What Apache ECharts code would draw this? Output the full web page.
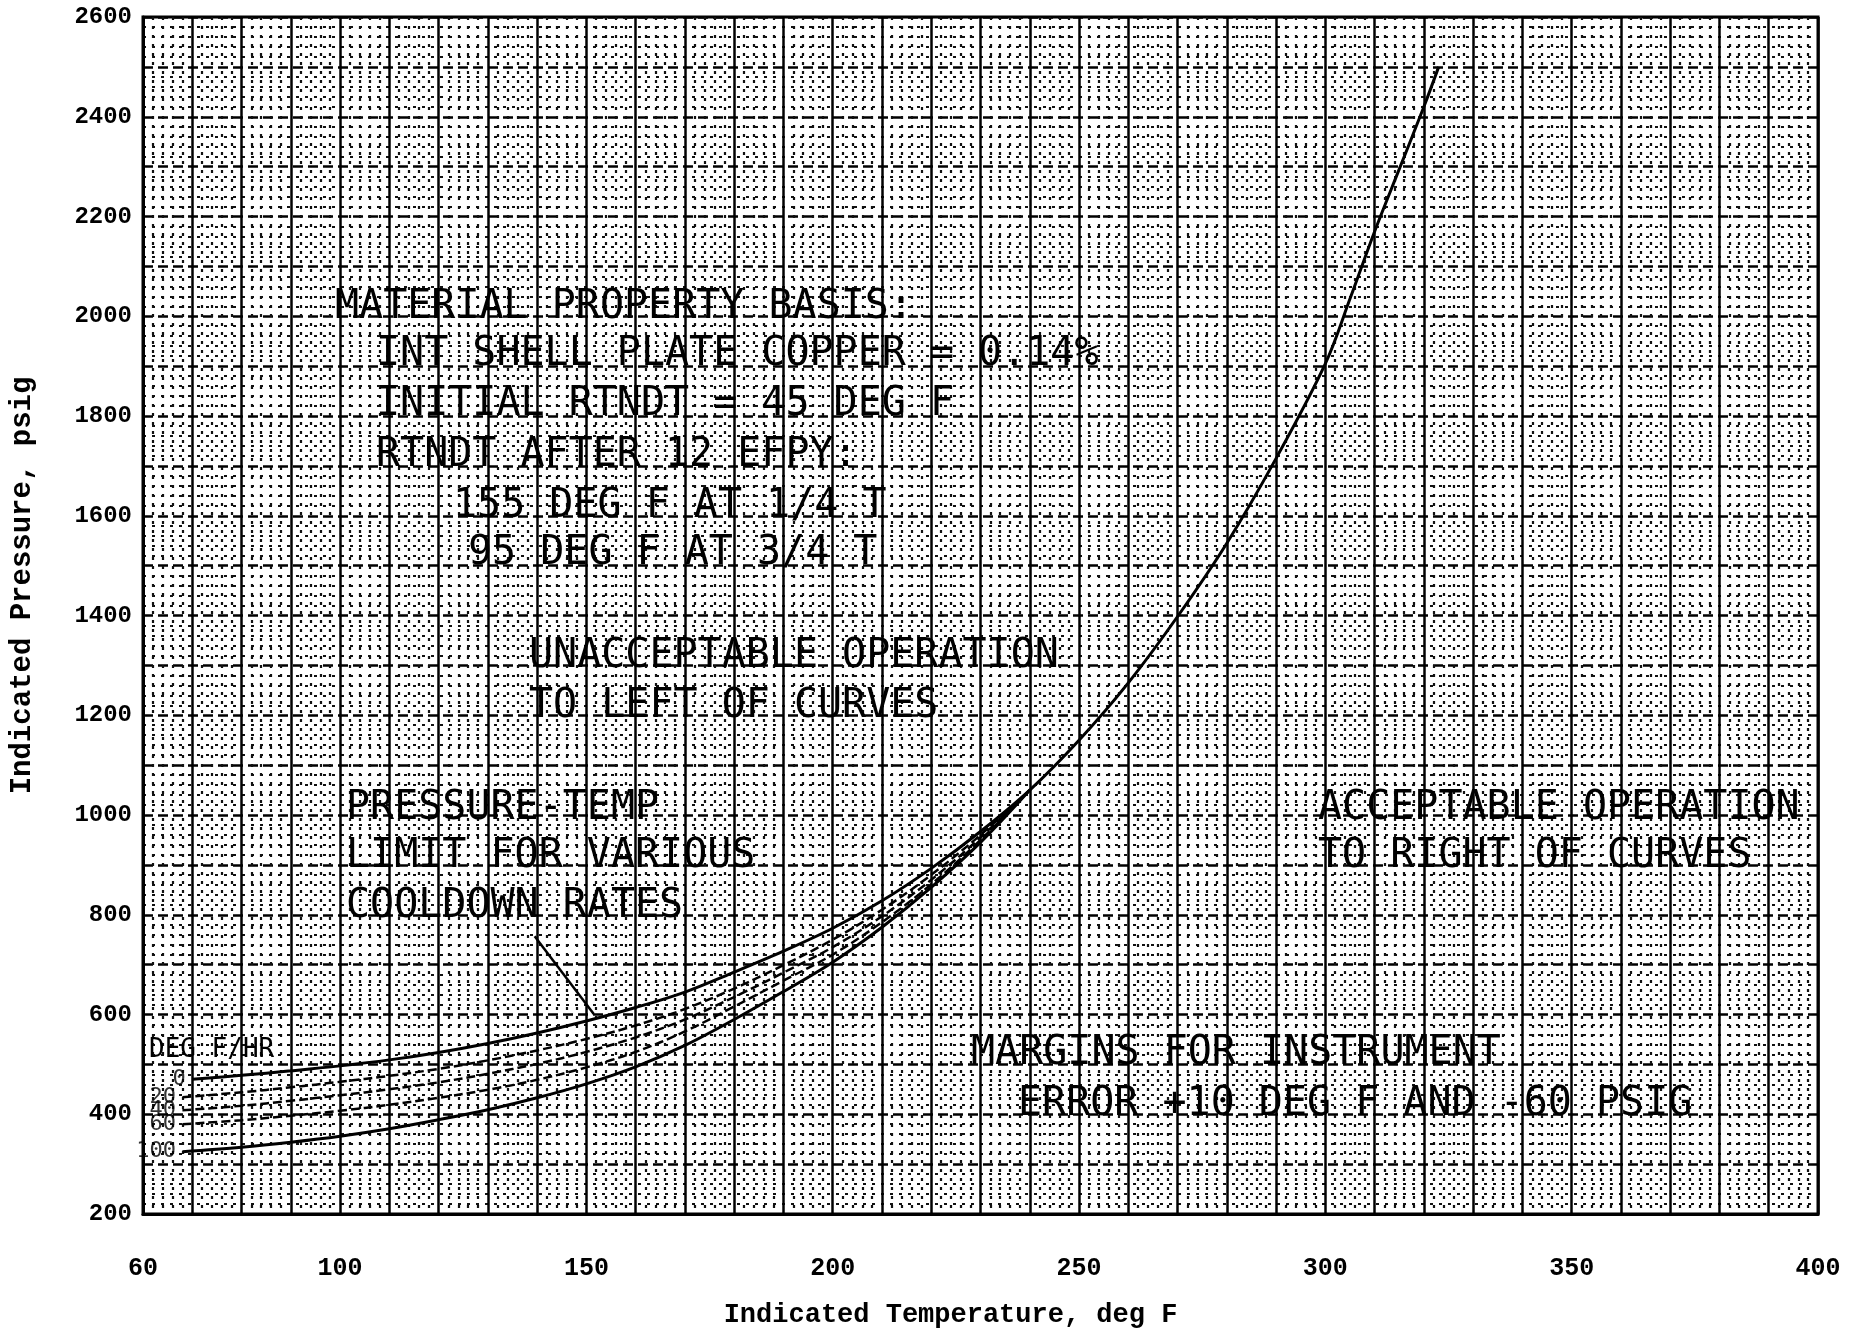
<!DOCTYPE html>
<html>
<head>
<meta charset="utf-8">
<script src="https://cdn.jsdelivr.net/npm/echarts@6/dist/echarts.min.js"></script>
<style>
html,body{margin:0;padding:0;background:#fff;}
#chart{width:1857px;height:1334px;}
</style>
</head>
<body>
<div id="chart"></div>
<script>
// ---- data ----
const xTickLabels = [60, 100, 150, 200, 250, 300, 350, 400];
const yTickLabels = [200, 400, 600, 800, 1000, 1200, 1400, 1600, 1800, 2000, 2200, 2400, 2600];

// 0 deg F/hr curve (continues to the top)
const temps0 = [70, 80, 90, 100, 110, 120, 130, 140, 150, 160, 170, 180, 190, 200, 210, 220, 230, 240, 250, 260, 270, 280, 290, 300, 305, 310, 315, 320, 323];
const press0 = [470, 478, 487, 497, 509, 524, 542, 563, 587, 614, 645, 685, 727, 773, 828, 893, 967, 1050, 1150, 1265, 1398, 1545, 1715, 1905, 2035, 2170, 2295, 2420, 2500];

// cooldown-rate curves that merge into the 0 deg F/hr curve
const tempsRates = [68, 80, 90, 100, 110, 120, 130, 140, 150, 160, 170, 180, 190, 200, 210, 220, 230, 240];
const press20  = [434, 444, 454, 465, 477, 491, 508, 528, 551, 578, 611, 652, 699, 750, 810, 880, 960, 1050];
const press40  = [408, 417, 427, 438, 450, 464, 481, 501, 525, 554, 590, 635, 684, 735, 797, 870, 955, 1050];
const press60  = [380, 388, 397, 407, 419, 433, 449, 469, 494, 525, 566, 616, 668, 720, 785, 861, 950, 1050];
const press100 = [325, 334, 344, 356, 371, 389, 409, 433, 461, 495, 538, 590, 646, 705, 775, 855, 945, 1050];

const rateLabels = ['0', '20', '40', '60', '100'];

// leader from the "COOLDOWN RATES" note to the curves
const leaderTemps = [139.5, 151.5];
const leaderPress = [757, 601];

// ---- chart ----
const chart = echarts.init(document.getElementById('chart'), null, {renderer: 'canvas'});
const zip = (xs, ys) => xs.map((x, i) => [x, ys[i]]);
const mono = '"DejaVu Sans Mono", "Liberation Mono", monospace';
const tick = 'Liberation Mono';

const rateSeriesData = [press20, press40, press60, press100];
const curveSeries = [{
  name: '0', type: 'line', data: zip(temps0, press0), smooth: 0.35, showSymbol: false,
  lineStyle: {color: '#000', width: 3}, z: 5
}];
rateSeriesData.forEach((p, k) => {
  const dashed = k < 3;
  curveSeries.push({
    name: rateLabels[k + 1], type: 'line', data: zip(tempsRates, p), smooth: 0.35, showSymbol: false,
    lineStyle: {color: '#000', width: dashed ? 2.5 : 3, type: dashed ? [9, 4] : 'solid'}, z: 5
  });
});

const starts = [[temps0[0], press0[0]]].concat(rateSeriesData.map(p => [tempsRates[0], p[0]]));

const notes = [
  ['MATERIAL PROPERTY BASIS:', 335, 308],
  ['INT SHELL PLATE COPPER = 0.14%', 376, 355],
  ['INITIAL RTNDT = 45 DEG F', 376, 405],
  ['RTNDT AFTER 12 EFPY:', 376, 456],
  ['155 DEG F AT 1/4 T', 453, 507],
  ['95 DEG F AT 3/4 T', 468, 554],
  ['UNACCEPTABLE OPERATION', 529, 657],
  ['TO LEFT OF CURVES', 529, 707],
  ['PRESSURE-TEMP', 346, 809],
  ['LIMIT FOR VARIOUS', 346, 857],
  ['COOLDOWN RATES', 346, 907],
  ['ACCEPTABLE OPERATION', 1318, 809],
  ['TO RIGHT OF CURVES', 1318, 857],
  ['MARGINS FOR INSTRUMENT', 971, 1054],
  ['ERROR +10 DEG F AND -60 PSIG', 1018, 1105]
];

const option = {
  animation: false,
  backgroundColor: '#fff',
  grid: {left: 137, right: 39, top: 17, bottom: 115, show: true, borderColor: '#000', borderWidth: 3, backgroundColor: '#fff'},
  xAxis: {
    type: 'value', min: 60, max: 400, interval: 10,
    name: 'Indicated Temperature, deg F', nameLocation: 'middle', nameGap: 88,
    nameTextStyle: {fontFamily: tick, fontWeight: 'bold', fontSize: 27, color: '#000', padding: [0, 60, 0, 0]},
    axisLine: {show: true, lineStyle: {color: '#000', width: 3}},
    axisTick: {show: false},
    axisLabel: {
      margin: 42, fontFamily: tick, fontWeight: 'bold', fontSize: 25, color: '#000',
      formatter: v => xTickLabels.includes(v) ? String(v) : ''
    },
    splitLine: {show: true, lineStyle: {color: '#000', width: 2.5}},
    minorTick: {show: false, splitNumber: 5},
    minorSplitLine: {show: true, lineStyle: {color: '#111', width: 2.2, type: [3, 6]}}
  },
  yAxis: {
    type: 'value', min: 200, max: 2600, interval: 100,
    name: 'Indicated Pressure, psig', nameLocation: 'middle', nameGap: 106, nameRotate: 90,
    nameTextStyle: {fontFamily: tick, fontWeight: 'bold', fontSize: 29, color: '#000', padding: [0, 0, 0, 60]},
    axisLine: {show: true, lineStyle: {color: '#000', width: 3}},
    axisTick: {show: false},
    axisLabel: {
      margin: 11, fontFamily: tick, fontWeight: 'bold', fontSize: 24, color: '#000',
      formatter: v => yTickLabels.includes(v) ? String(v) : ''
    },
    splitLine: {show: true, lineStyle: {color: '#000', width: 2.5, type: [10, 5]}},
    minorTick: {show: false, splitNumber: 5},
    minorSplitLine: {show: true, lineStyle: {color: '#111', width: 2.2, type: [3, 6]}}
  },
  series: curveSeries.concat([
    {
      name: 'leader', type: 'line', data: zip(leaderTemps, leaderPress), showSymbol: false,
      lineStyle: {color: '#000', width: 2.5}, z: 5
    },
    {
      name: 'rates', type: 'scatter', symbolSize: 1, itemStyle: {color: 'rgba(0,0,0,0)'},
      data: starts.map((s, i) => ({value: s, label: {formatter: rateLabels[i]}})),
      label: {show: true, position: 'left', distance: 6, fontFamily: mono, fontSize: 22, color: '#000'},
      z: 6
    }
  ]),
  graphic: notes.map(n => ({
    type: 'text', x: n[1], y: n[2], z: 10,
    style: {text: n[0], font: '40px ' + mono, fill: '#000', align: 'left', verticalAlign: 'middle'}
  })).concat([{
    type: 'text', x: 149, y: 1050, z: 10,
    style: {text: 'DEG F/HR', font: '26px ' + mono, fill: '#000', align: 'left', verticalAlign: 'middle'}
  }])
};
chart.setOption(option);
</script>
</body>
</html>
